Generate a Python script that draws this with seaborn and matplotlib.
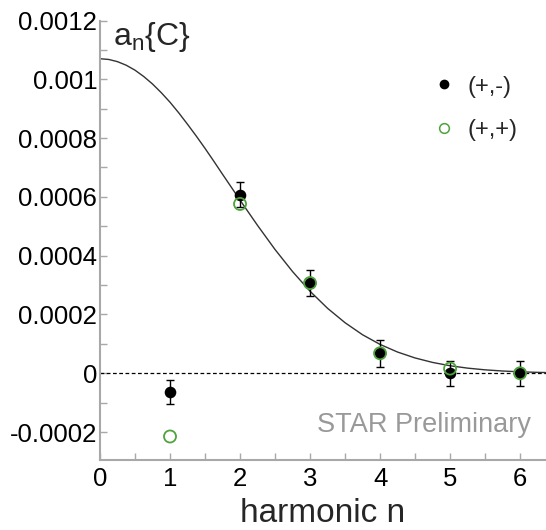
import numpy as np
import pandas as pd
import matplotlib
matplotlib.use("Agg")
import matplotlib.pyplot as plt
from matplotlib.lines import Line2D
from matplotlib.ticker import MultipleLocator, FixedLocator
import seaborn as sns

# ---------------- data ----------------
harmonic = [1, 2, 3, 4, 5, 6]
opp_sign = [-0.000064, 0.000608, 0.000307, 0.000068, 0.000000, 0.000000]      # (+,-)
opp_err = [0.000042, 0.000041, 0.000043, 0.000045, 0.000043, 0.000043]
same_sign = [-0.000215, 0.000576, 0.000307, 0.000068, 0.000016, 0.000000]     # (+,+)

curve_x = [0.0, 0.125, 0.25, 0.375, 0.5, 0.625, 0.75, 0.875, 1.0, 1.125,
           1.25, 1.375, 1.5, 1.625, 1.75, 1.875, 2.0, 2.25, 2.5, 2.75,
           3.0, 3.25, 3.5, 3.75, 4.0, 4.25, 4.5, 4.75, 5.0, 5.25, 5.5, 5.75,
           6.0, 6.25, 6.4]
curve_y = [0.001070, 0.0010675, 0.001060, 0.0010478, 0.001031, 0.0010094,
           0.000984, 0.0009545, 0.000922, 0.0008858, 0.000847, 0.0008069,
           0.000765, 0.0007215, 0.000677, 0.0006331, 0.000589, 0.000503,
           0.000421, 0.000346, 0.000279, 0.000221, 0.000172, 0.000131,
           0.0000982, 0.0000722, 0.0000521, 0.0000369, 0.0000256, 0.0000175,
           0.0000117, 0.0000077, 0.0000050, 0.0000031, 0.0000024]

y_ticks = [-0.0002, 0.0, 0.0002, 0.0004, 0.0006, 0.0008, 0.001, 0.0012]
y_ticklabels = ["-0.0002", "0", "0.0002", "0.0004", "0.0006", "0.0008", "0.001", "0.0012"]
x_ticks = [0, 1, 2, 3, 4, 5, 6]
x_ticklabels = ["0", "1", "2", "3", "4", "5", "6"]
legend_labels = ["(+,-)", "(+,+)"]

# ---------------- style ----------------
sns.set_style("ticks")
plt.rcParams["font.family"] = ["Liberation Sans", "DejaVu Sans"]
plt.rcParams["mathtext.fontset"] = "custom"
plt.rcParams["mathtext.rm"] = "Liberation Sans"
plt.rcParams["mathtext.it"] = "Liberation Sans"

green = "#4fa33c"
gray_axis = "#a8a8a8"

fig = plt.figure(figsize=(5.46, 5.30), dpi=100)
ax = fig.add_axes([100 / 546, 1 - 460 / 530, 446 / 546, (460 - 20.5) / 530])

# zero line
ax.axhline(0, color="black", lw=0.9, ls=(0, (3, 2)), zorder=1)

# fit curve
sns.lineplot(x=curve_x, y=curve_y, ax=ax, color="#333333", lw=1.0, zorder=2,
             estimator=None, sort=False)

# error bars for (+,-)
ax.errorbar(harmonic, opp_sign, yerr=opp_err, fmt="none", ecolor="black",
            elinewidth=1.0, capsize=3.2, capthick=1.0, zorder=3)

df = pd.DataFrame({"n": harmonic, "opp": opp_sign, "same": same_sign})
sns.scatterplot(data=df, x="n", y="opp", ax=ax, color="black", s=70,
                edgecolor="black", linewidth=0, zorder=4, legend=False)
sns.scatterplot(data=df, x="n", y="same", ax=ax, facecolor="none",
                edgecolor=green, s=75, linewidth=1.3, zorder=5, legend=False)

ax.set_xlim(0, 6.37)
ax.set_ylim(-0.000295, 0.0012)

ax.xaxis.set_major_locator(FixedLocator(x_ticks))
ax.set_xticklabels(x_ticklabels)
ax.xaxis.set_minor_locator(MultipleLocator(0.5))
ax.yaxis.set_major_locator(FixedLocator(y_ticks))
ax.set_yticklabels(y_ticklabels)
ax.yaxis.set_minor_locator(MultipleLocator(0.0001))

ax.tick_params(axis="both", which="both", direction="in", color=gray_axis,
               width=1.0, labelsize=18.5, labelcolor="black")
ax.tick_params(axis="both", which="major", length=5)
ax.tick_params(axis="both", which="minor", length=5)
ax.tick_params(axis="x", which="both", pad=5)
ax.tick_params(axis="y", which="both", pad=2)

for side in ["top", "right"]:
    ax.spines[side].set_visible(False)
for side in ["left", "bottom"]:
    ax.spines[side].set_color(gray_axis)
    ax.spines[side].set_linewidth(1.5)

ax.set_xlabel("harmonic n", fontsize=24, labelpad=5)
ax.set_ylabel("")

ax.text(0.029, 0.0012, r"a$_\mathregular{n}${C}", fontsize=23, ha="left", va="top",
        transform=ax.get_yaxis_transform())
ax.text(6.15, -0.000175, "STAR Preliminary", fontsize=19.5, color="#999999",
        ha="right", va="center")

handles = [
    Line2D([], [], marker="o", color="black", ls="none", markersize=6),
    Line2D([], [], marker="o", markerfacecolor="none", markeredgecolor=green,
           ls="none", markersize=7, markeredgewidth=1.1),
]
ax.legend(handles, legend_labels, loc="upper left", bbox_to_anchor=(0.698, 0.923),
          frameon=False, fontsize=17, handletextpad=0.47, labelspacing=0.9,
          handlelength=1.0)

fig.savefig("out.png", dpi=100)
